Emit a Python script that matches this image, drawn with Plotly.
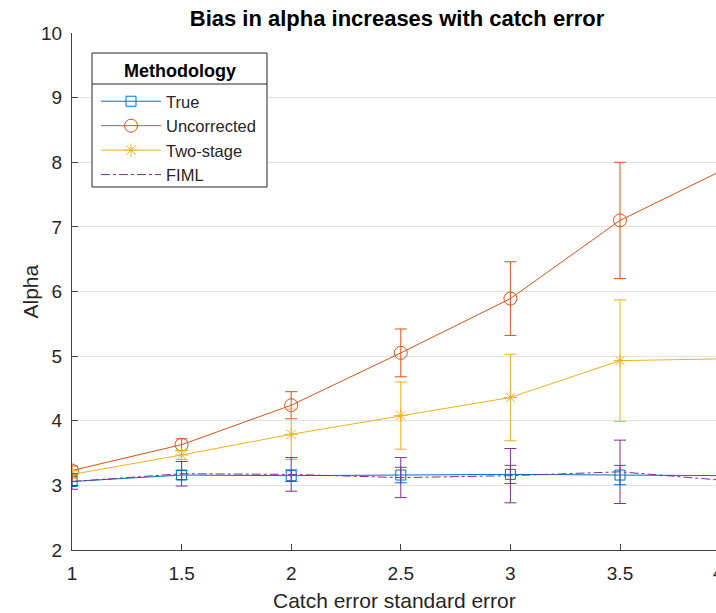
import plotly.graph_objects as go

# ---- data ----
x_vals = [1, 1.5, 2, 2.5, 3, 3.5, 4]
true_mean = [3.06, 3.16, 3.15, 3.16, 3.17, 3.16, 3.15]
true_err = [0.07, 0.07, 0.09, 0.12, 0.14, 0.15, 0.15]
uncorr_mean = [3.23, 3.63, 4.24, 5.05, 5.89, 7.10, 7.93]
uncorr_err = [0.07, 0.09, 0.21, 0.37, 0.57, 0.90, 1.10]
two_mean = [3.17, 3.47, 3.79, 4.08, 4.36, 4.93, 4.96]
two_err = [0.06, 0.07, 0.39, 0.52, 0.67, 0.94, 1.00]
fiml_mean = [3.06, 3.18, 3.17, 3.12, 3.15, 3.21, 3.07]
fiml_err = [0.12, 0.19, 0.26, 0.31, 0.42, 0.49, 0.50]
series_names = ["True", "Uncorrected", "Two-stage", "FIML"]
x_ticks = [1, 1.5, 2, 2.5, 3, 3.5]
y_ticks = [2, 3, 4, 5, 6, 7, 8, 9, 10]

BLUE = "#0072BD"
RED = "#D95319"
YEL = "#EDB120"
PUR = "#7E2F8E"
FONT = "Liberation Sans"
TXT = "#262626"

W, H = 716, 613
L, T, B = 72, 33, 63
PW = W - L
PH = H - T - B
X_PX_PER_UNIT = 219.2
x_max = 1 + PW / X_PX_PER_UNIT


def px_x(p):
    return (p - L) / PW


def px_y(p):
    return (T + PH - p) / PH


fig = go.Figure()


def add(name, y, err, color, symbol, size, dash="solid", mode="lines+markers"):
    fig.add_trace(go.Scatter(
        x=x_vals, y=y, name=name, mode=mode,
        line=dict(color=color, width=1, dash=dash),
        marker=dict(symbol=symbol, size=size, color=color,
                    line=dict(color=color, width=1)),
        error_y=dict(type="data", array=err, visible=True, color=color,
                     thickness=1, width=6),
        cliponaxis=True,
    ))


add(series_names[0], true_mean, true_err, BLUE, "square-open", 10)
add(series_names[1], uncorr_mean, uncorr_err, RED, "circle-open", 13)
add(series_names[2], two_mean, two_err, YEL, "asterisk-open", 11)
add(series_names[3], fiml_mean, fiml_err, PUR, "circle", 1, dash="dashdot", mode="lines")

axis_common = dict(
    showline=True, linecolor="#444444", linewidth=1,
    ticks="inside", ticklen=6, tickcolor="#444444", tickwidth=1,
    tickfont=dict(family=FONT, size=19, color=TXT),
    zeroline=False,
)

fig.update_xaxes(range=[1, x_max], tickvals=x_ticks,
                 ticktext=[f"{v:g}" for v in x_ticks],
                 showgrid=False, ticklabelstandoff=6, **axis_common)
fig.update_yaxes(range=[2, 10], tickvals=y_ticks,
                 showgrid=True, gridcolor="#e3e3e3", gridwidth=1,
                 ticklabelstandoff=5, **axis_common)

# legend box (drawn as shapes) and separator
bx0, bx1, by0, by1 = 92, 267, 53, 187
shapes = [
    dict(type="rect", xref="paper", yref="paper",
         x0=px_x(bx0), x1=px_x(bx1), y0=px_y(by1), y1=px_y(by0),
         fillcolor="white", line=dict(color="#262626", width=1), layer="above"),
    dict(type="line", xref="paper", yref="paper",
         x0=px_x(bx0), x1=px_x(bx1), y0=px_y(84), y1=px_y(84),
         line=dict(color="#262626", width=1), layer="above"),
]

annotations = [
    dict(text="<b>Methodology</b>", xref="paper", yref="paper",
         x=px_x((bx0 + bx1) / 2), y=px_y(71), xanchor="center", yanchor="middle",
         showarrow=False, font=dict(family=FONT, size=18, color="black")),
    dict(text="Catch error standard error", xref="paper", yref="paper",
         x=0.5, y=px_y(600), xanchor="center", yanchor="middle",
         showarrow=False, font=dict(family=FONT, size=21, color=TXT)),
    dict(text="Alpha", xref="paper", yref="paper",
         x=px_x(30), y=0.5, xanchor="center", yanchor="middle", textangle=-90,
         showarrow=False, font=dict(family=FONT, size=21, color=TXT)),
    dict(text="4", xref="paper", yref="paper",
         x=px_x(711), y=px_y(572), xanchor="left", yanchor="middle",
         showarrow=False, font=dict(family=FONT, size=19, color=TXT)),
]

fig.update_layout(
    width=W, height=H,
    margin=dict(l=L, r=0, t=T, b=B),
    plot_bgcolor="white", paper_bgcolor="white",
    title=dict(text="<b>Bias in alpha increases with catch error</b>",
               x=397 / W, xanchor="center",
               y=1 - 18 / H, yanchor="middle", yref="container",
               font=dict(family=FONT, size=22, color="black")),
    showlegend=True,
    legend=dict(x=px_x(96), y=px_y(84), xanchor="left", yanchor="top",
                bgcolor="rgba(0,0,0,0)", borderwidth=0,
                font=dict(family=FONT, size=16.5, color=TXT),
                itemwidth=60, tracegroupgap=0),
    shapes=shapes,
    annotations=annotations,
)

fig.write_html("out.html")
